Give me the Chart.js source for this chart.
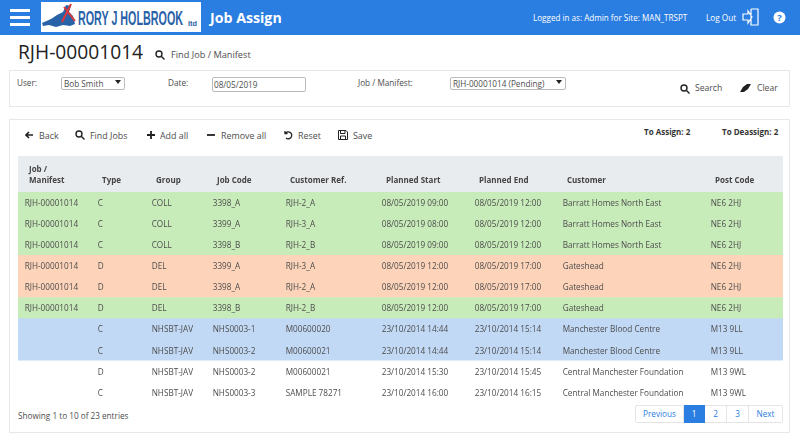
<!DOCTYPE html>
<html>
<head>
<meta charset="utf-8">
<title>Job Assign</title>
<script src="https://cdn.jsdelivr.net/npm/chart.js@4/dist/chart.umd.min.js"></script>
<style>
    html, body { margin: 0; padding: 0; background: #fff; }
    body { width: 800px; height: 435px; position: relative; overflow: hidden; font-family: "Open Sans", sans-serif; font-size: 8.2px; color: #4d4d4d; }
    .t { position: absolute; white-space: nowrap; line-height: 12px; }
    .tool { font-size: 8.9px; }
    .i { position: absolute; }
    .header { position: absolute; left: 0; top: 0; width: 800px; height: 35px; background: #2a7de1; }
    .panel { position: absolute; left: 9px; width: 781px; border: 1px solid #e8e8e8; box-sizing: border-box; }
    .field { position: absolute; box-sizing: border-box; border: 1px solid #bbb; border-radius: 2px; background: #fff; color: #4d4d4d; padding-left: 2px; line-height: 11px; white-space: nowrap; }
    .field::after { content: ""; position: absolute; right: 3px; top: 2px; border: 3px solid transparent; border-top: 4px solid #222; }
    .date::after { display: none; }
    .pager { position: absolute; top: 405px; height: 18px; box-sizing: border-box; border: 1px solid #e4e4e4; border-left: 0; color: #2a7de1; text-align: center; line-height: 16px; }
    #tableChart { position: absolute; left: 18px; top: 156px; }
</style>
</head>
<body>
<div class="header"></div>
<svg class="i" style="left:10px;top:9px" width="20" height="17"><path d="M0 1.5H20M0 8.5H20M0 15.5H20" stroke="#fff" stroke-width="3"/></svg>
<svg class="i" style="left:41px;top:2px" width="160" height="30">
    <rect width="160" height="30" fill="#fff"/>
    <path d="M1 21 L10 17 L16 13 L22 10 L25 3 L30 4 L28 10 L32 14 L34 22 L29 24 L22 23 L15 25 L8 23 L2 24 Z" fill="#2a62a8"/>
    <path d="M21 20 L30 2 M23 5 L34 19" stroke="#d9383a" stroke-width="2"/>
    <text x="37" y="23" font-family="Liberation Sans" font-weight="700" font-size="20" fill="#2a62a8" textLength="105" lengthAdjust="spacingAndGlyphs">RORY J HOLBROOK</text>
    <text x="147" y="24" font-family="Liberation Sans" font-weight="700" font-size="6.5" fill="#2a62a8" textLength="9" lengthAdjust="spacingAndGlyphs">ltd</text>
</svg>
<div class="t" style="left:210px;top:8px;font-size:14.2px;line-height:19px;font-weight:700;color:#fff">Job Assign</div>
<div class="t" style="left:533px;top:12px;font-size:8.1px;color:#fff">Logged in as: Admin for Site: MAN_TRSPT</div>
<div class="t" style="left:706px;top:12px;font-size:8.2px;color:#fff">Log Out</div>
<svg class="i" style="left:742px;top:8px" width="18" height="18" fill="none" stroke="#fff" stroke-width="1.2"><path d="M9 1H16V17H9V1M9 3V1M1 6H6V3L10 9L6 15V12H1Z"/></svg>
<svg class="i" style="left:773px;top:11px" width="13" height="13"><circle cx="6.5" cy="6.5" r="6" fill="#fff"/><text x="6.5" y="10" text-anchor="middle" font-size="9.5" font-weight="700" font-family="Open Sans" fill="#2a7de1">?</text></svg>

<div class="t" style="left:18px;top:41px;font-size:19.2px;line-height:22px;color:#222">RJH-00001014</div>
<svg class="i" style="left:155px;top:50px" width="10" height="10" fill="none" stroke="#222" stroke-width="1.4"><circle cx="4" cy="4" r="3"/><path d="M6.5 6.5L9.5 9.5"/></svg>
<div class="t tool" style="left:171px;top:49px;font-size:9.2px">Find Job / Manifest</div>

<div class="panel" style="top:70px;height:37px"></div>
<div class="t" style="left:17px;top:77px">User:</div>
<div class="field" style="left:61px;top:77px;width:64px;height:13px">Bob Smith</div>
<div class="t" style="left:168px;top:77px">Date:</div>
<div class="field date" style="left:212px;top:77px;width:94px;height:15px;line-height:14px;padding-left:1px">08/05/2019</div>
<div class="t" style="left:358px;top:77px">Job / Manifest:</div>
<div class="field" style="left:450px;top:77px;width:116px;height:13px">RJH-00001014 (Pending)</div>
<svg class="i" style="left:680px;top:84px" width="10" height="10" fill="none" stroke="#222" stroke-width="1.4"><circle cx="4" cy="4" r="3"/><path d="M6.5 6.5L9.5 9.5"/></svg>
<div class="t" style="left:695px;top:82px;font-size:8.6px">Search</div>
<svg class="i" style="left:740px;top:84px" width="11" height="9"><path d="M0 8L3 3L7 0H11L8 5L4 8Z" fill="#222"/></svg>
<div class="t" style="left:757px;top:82px;font-size:8.6px">Clear</div>

<div class="panel" style="top:119px;height:314px"></div>
<svg class="i" style="left:25px;top:131px" width="8" height="8" fill="none" stroke="#222" stroke-width="1.6"><path d="M4 1L1 4L4 7M1 4H8"/></svg>
<div class="t tool" style="left:39px;top:130px">Back</div>
<svg class="i" style="left:75px;top:130px" width="10" height="10" fill="none" stroke="#222" stroke-width="1.4"><circle cx="4" cy="4" r="3"/><path d="M6.5 6.5L9.5 9.5"/></svg>
<div class="t tool" style="left:90px;top:130px">Find Jobs</div>
<svg class="i" style="left:147px;top:131px" width="8" height="8"><path d="M4 0V8M0 4H8" stroke="#222" stroke-width="1.8"/></svg>
<div class="t tool" style="left:160px;top:130px">Add all</div>
<svg class="i" style="left:207px;top:131px" width="8" height="8"><path d="M0 4H8" stroke="#222" stroke-width="1.8"/></svg>
<div class="t tool" style="left:221px;top:130px">Remove all</div>
<svg class="i" style="left:284px;top:130px" width="9" height="10" fill="none" stroke="#222" stroke-width="1.3"><path d="M1 1V3.5H3.5M1.2 3.5A3.5 3.5 0 1 1 2 8"/></svg>
<div class="t tool" style="left:298px;top:130px">Reset</div>
<svg class="i" style="left:338px;top:130px" width="10" height="10" fill="none" stroke="#222" stroke-width="1"><path d="M.5 .5H8L9.5 2V9.5H.5ZM2.5 .5V3.5H7V.5M2.5 9.5V6H7.5V9.5"/></svg>
<div class="t tool" style="left:353px;top:130px">Save</div>
<div class="t" style="left:644px;top:126px;font-size:8px;font-weight:700;color:#333">To Assign: 2</div>
<div class="t" style="left:722px;top:126px;font-size:8px;font-weight:700;color:#333">To Deassign: 2</div>

<canvas id="tableChart" width="765" height="247"></canvas>

<div class="t" style="left:18px;top:410px">Showing 1 to 10 of 23 entries</div>
<div class="pager" style="left:635px;width:49px;border-left:1px solid #e4e4e4;border-radius:2px 0 0 2px">Previous</div>
<div class="pager" style="left:684px;width:21px;background:#2a7de1;border-color:#2a7de1;color:#fff">1</div>
<div class="pager" style="left:705px;width:22px">2</div>
<div class="pager" style="left:727px;width:22px">3</div>
<div class="pager" style="left:749px;width:34px;border-radius:0 2px 2px 0">Next</div>

<script>
const headers = [['Job /', 'Manifest'], 'Type', 'Group', 'Job Code', 'Customer Ref.', 'Planned Start', 'Planned End', 'Customer', 'Post Code'];
const jobs = ['RJH-00001014', 'RJH-00001014', 'RJH-00001014', 'RJH-00001014', 'RJH-00001014', 'RJH-00001014', '', '', '', ''];
const types = ['C', 'C', 'C', 'D', 'D', 'D', 'C', 'C', 'D', 'C'];
const groups = ['COLL', 'COLL', 'COLL', 'DEL', 'DEL', 'DEL', 'NHSBT-JAV', 'NHSBT-JAV', 'NHSBT-JAV', 'NHSBT-JAV'];
const jobCodes = ['3398_A', '3399_A', '3398_B', '3399_A', '3398_A', '3398_B', 'NHS0003-1', 'NHS0003-2', 'NHS0003-2', 'NHS0003-3'];
const customerRefs = ['RJH-2_A', 'RJH-3_A', 'RJH-2_B', 'RJH-3_A', 'RJH-2_A', 'RJH-2_B', 'M00600020', 'M00600021', 'M00600021', 'SAMPLE 78271'];
const plannedStarts = ['08/05/2019 09:00', '08/05/2019 08:00', '08/05/2019 09:00', '08/05/2019 12:00', '08/05/2019 12:00', '08/05/2019 12:00', '23/10/2014 14:44', '23/10/2014 14:44', '23/10/2014 15:30', '23/10/2014 16:00'];
const plannedEnds = ['08/05/2019 12:00', '08/05/2019 12:00', '08/05/2019 12:00', '08/05/2019 17:00', '08/05/2019 17:00', '08/05/2019 17:00', '23/10/2014 15:14', '23/10/2014 15:14', '23/10/2014 15:45', '23/10/2014 16:15'];
const customers = ['Barratt Homes North East', 'Barratt Homes North East', 'Barratt Homes North East', 'Gateshead', 'Gateshead', 'Gateshead', 'Manchester Blood Centre', 'Manchester Blood Centre', 'Central Manchester Foundation', 'Central Manchester Foundation'];
const postCodes = ['NE6 2HJ', 'NE6 2HJ', 'NE6 2HJ', 'NE6 2HJ', 'NE6 2HJ', 'NE6 2HJ', 'M13 9LL', 'M13 9LL', 'M13 9WL', 'M13 9WL'];
const rowStates = ['assigned', 'assigned', 'assigned', 'deassign', 'deassign', 'assigned', 'assign', 'assign', 'none', 'none'];

const columns = [jobs, types, groups, jobCodes, customerRefs, plannedStarts, plannedEnds, customers, postCodes];
const stateColors = { assigned: '#c8ebba', deassign: '#fdd4ba', assign: '#c2d9f6', none: '#ffffff' };
const tableWidth = 765;
const headerX = [11, 84, 138, 199, 272, 368, 461, 549, 697];
const cellFont = '8.2px "Open Sans"';

// cell text is not something a bar chart does, so draw it over the row bars
const cellText = {
    id: 'cellText',
    afterDatasetsDraw(chart) {
        const { ctx, scales: { x, y } } = chart;
        ctx.save();
        ctx.font = cellFont;
        ctx.fillStyle = '#4d4d4d';
        ctx.textBaseline = 'middle';
        columns.forEach((col, c) => {
            col.forEach((text, r) => {
                ctx.fillText(text, x.getPixelForValue(headerX[c]) - 4.3, y.getPixelForValue(r) + 1);
            });
        });
        ctx.restore();
    }
};

new Chart(document.getElementById('tableChart'), {
    type: 'bar',
    plugins: [cellText],
    data: {
        labels: jobCodes.map((_, i) => i),
        datasets: [{
            data: jobCodes.map(() => tableWidth),
            backgroundColor: rowStates.map(s => stateColors[s]),
            barPercentage: 1,
            categoryPercentage: 1,
            borderWidth: 0
        }]
    },
    options: {
        indexAxis: 'y',
        responsive: false,
        animation: false,
        devicePixelRatio: 1,
        layout: { padding: 0 },
        plugins: { legend: { display: false }, tooltip: { enabled: false } },
        scales: {
            y: { display: false },
            x: {
                position: 'top',
                min: 0,
                max: tableWidth,
                backgroundColor: '#e9ecef',
                grid: { display: false, drawTicks: false },
                border: { display: false },
                afterBuildTicks: axis => { axis.ticks = headerX.map(v => ({ value: v })); },
                afterFit: axis => { axis.height = 36; },
                ticks: {
                    autoSkip: false,
                    maxRotation: 0,
                    align: 'start',
                    padding: 5,
                    color: '#444',
                    font: { family: '"Open Sans"', size: 8, weight: 'bold', lineHeight: 1.45 },
                    callback: (v, i) => headers[i]
                }
            }
        }
    }
});
</script>
</body>
</html>
